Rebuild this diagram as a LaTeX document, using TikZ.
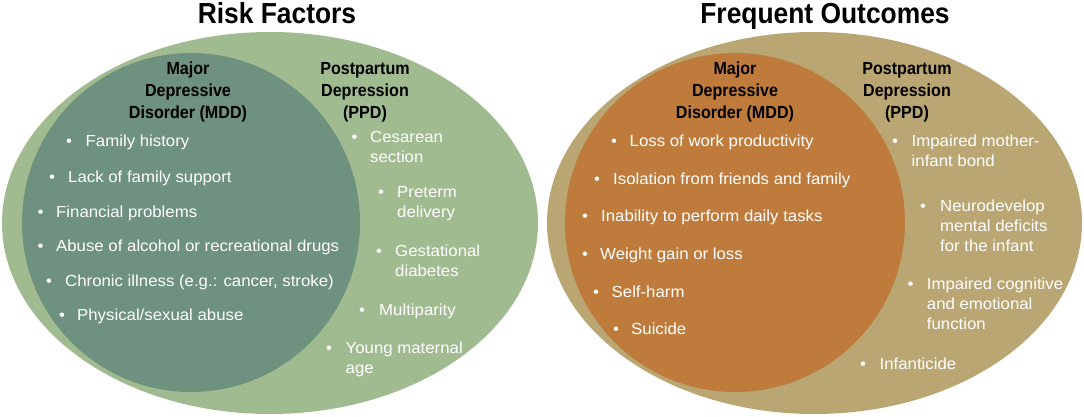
\documentclass[tikz,border=0pt]{standalone}
\usepackage{fontspec}
\setmainfont{Liberation Sans}
\newfontfamily\bodyf[FakeStretch=1.05]{Liberation Sans}
\newfontfamily\headf[FakeStretch=0.92]{Liberation Sans}
\newfontfamily\titlef[FakeStretch=0.91]{Liberation Sans}
\definecolor{gOut}{RGB}{160,187,143}
\definecolor{gIn}{RGB}{110,145,128}
\definecolor{oOut}{RGB}{185,166,115}
\definecolor{oIn}{RGB}{190,123,60}
\begin{document}
\begin{tikzpicture}[x=1pt,y=-1pt,
  ttl/.style={font=\titlef\bfseries\fontsize{29}{32}\selectfont, anchor=base, inner sep=0, text=black},
  head/.style={font=\headf\bfseries\fontsize{17.5}{20}\selectfont, anchor=base, inner sep=0, text=black},
  txt/.style={font=\bodyf\fontsize{16}{19}\selectfont, anchor=base west, inner sep=0, text=white},
  bul/.style={font=\bodyf\fontsize{16}{19}\selectfont, anchor=base, inner sep=0, text=white}]
\useasboundingbox (0,0) rectangle (1084,416);
\fill[white] (0,0) rectangle (1084,416);
% ---------- Risk factors ----------
\fill[gOut] (270,223) ellipse [x radius=268pt, y radius=191pt];
\fill[gIn] (191,222.5) ellipse [x radius=169pt, y radius=169.5pt];
\node[ttl] (t1) at (277,23) {Risk Factors};
\node[head] (lm1) at (188,74) {Major};
\node[head] (lm2) at (188,96) {Depressive};
\node[head] (lm3) at (188,118) {Disorder (MDD)};
\node[head] (lp1) at (365,74) {Postpartum};
\node[head] (lp2) at (365,96) {Depression};
\node[head] (lp3) at (365,118) {(PPD)};
% MDD items
\node[bul] (a1b) at (69,146) {•};  \node[txt] (a1) at (85.5,146) {Family history};
\node[bul] (a2b) at (52,182) {•};  \node[txt] (a2) at (68,182) {Lack of family support};
\node[bul] (a3b) at (40.5,217) {•}; \node[txt] (a3) at (56,217) {Financial problems};
\node[bul] (a4b) at (40.5,251) {•}; \node[txt] (a4) at (56,251) {Abuse of alcohol or recreational drugs};
\node[bul] (a5b) at (49,286) {•};  \node[txt] (a5) at (65,286) {Chronic illness (e.g.: cancer, stroke)};
\node[bul] (a6b) at (62,320) {•};  \node[txt] (a6) at (77,320) {Physical/sexual abuse};
% PPD items
\node[bul] (b1b) at (354.5,142) {•}; \node[txt] (b1) at (370,142) {Cesarean};
\node[txt] (b1c) at (370,162) {section};
\node[bul] (b2b) at (381,197) {•}; \node[txt] (b2) at (397,197) {Preterm};
\node[txt] (b2c) at (397,217) {delivery};
\node[bul] (b3b) at (379,256) {•}; \node[txt] (b3) at (395,256) {Gestational};
\node[txt] (b3c) at (395,276) {diabetes};
\node[bul] (b4b) at (362,315) {•}; \node[txt] (b4) at (379,315) {Multiparity};
\node[bul] (b5b) at (329,353) {•}; \node[txt] (b5) at (345.5,353) {Young maternal};
\node[txt] (b5c) at (345.5,373) {age};
% ---------- Frequent outcomes ----------
\fill[oOut] (814.5,223) ellipse [x radius=267.5pt, y radius=191pt];
\fill[oIn] (735,222.5) ellipse [x radius=170pt, y radius=169.5pt];
\node[ttl] (t2) at (825,23) {Frequent Outcomes};
\node[head] (rm1) at (735,74) {Major};
\node[head] (rm2) at (735,96) {Depressive};
\node[head] (rm3) at (735,118) {Disorder (MDD)};
\node[head] (rp1) at (907,74) {Postpartum};
\node[head] (rp2) at (907,96) {Depression};
\node[head] (rp3) at (907,118) {(PPD)};
% MDD outcomes
\node[bul] (c1b) at (614,146) {•}; \node[txt] (c1) at (629.5,146) {Loss of work productivity};
\node[bul] (c2b) at (597,184) {•}; \node[txt] (c2) at (613,184) {Isolation from friends and family};
\node[bul] (c3b) at (585,221.5) {•}; \node[txt] (c3) at (601,221.5) {Inability to perform daily tasks};
\node[bul] (c4b) at (585,259) {•}; \node[txt] (c4) at (600,259) {Weight gain or loss};
\node[bul] (c5b) at (596,297) {•}; \node[txt] (c5) at (611.5,297) {Self-harm};
\node[bul] (c6b) at (616,334) {•}; \node[txt] (c6) at (631,334) {Suicide};
% PPD outcomes
\node[bul] (d1b) at (895,146) {•}; \node[txt] (d1) at (911.5,146) {Impaired mother-};
\node[txt] (d1c) at (911.5,166) {infant bond};
\node[bul] (d2b) at (923,211) {•}; \node[txt] (d2) at (940,211) {Neurodevelop};
\node[txt] (d2c) at (940,231) {mental deficits};
\node[txt] (d2d) at (940,251) {for the infant};
\node[bul] (d3b) at (910.5,289) {•}; \node[txt] (d3) at (926.7,289) {Impaired cognitive};
\node[txt] (d3c) at (926.7,309) {and emotional};
\node[txt] (d3d) at (926.7,329) {function};
\node[bul] (d4b) at (863,369) {•}; \node[txt] (d4) at (879.5,369) {Infanticide};
\end{tikzpicture}
\end{document}
